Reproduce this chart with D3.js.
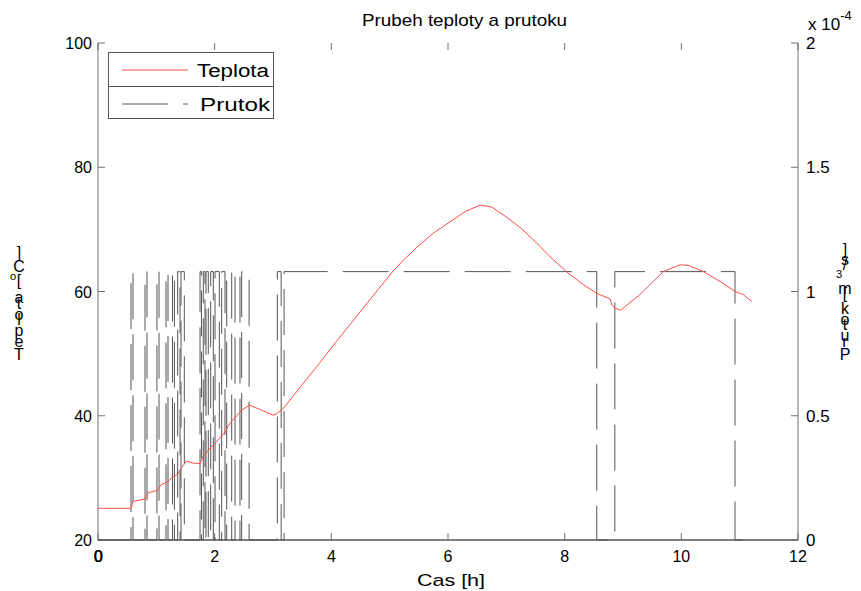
<!DOCTYPE html>
<html><head><meta charset="utf-8">
<script src="https://cdn.jsdelivr.net/npm/d3@7"></script>
<style>body{margin:0;background:#fff}svg{display:block}text{font-family:Arial,"Liberation Sans",Helvetica,sans-serif}</style>
</head><body>
<svg id="c" width="861" height="591"></svg>
<script>
// ---- data ----
const tempTime  = [0,0.57,0.6,0.80,0.86,1.02,1.08,1.20,1.26,1.37,1.42,1.52,1.62,1.75,1.80,1.92,2.06,2.18,2.26,2.38,2.46,2.60,2.78,3.00,3.06,3.18,3.5,3.8,4.09,4.5,4.8,5.06,5.25,5.5,5.75,6.0,6.3,6.55,6.75,7.0,7.25,7.5,7.75,8.03,8.32,8.55,8.78,8.81,8.86,8.96,9.29,9.69,9.98,10.12,10.38,10.72,10.92,11.06,11.21];
const tempValue = [25.1,25.1,26.2,26.6,27.6,28.0,28.9,29.4,30.0,30.6,31.5,32.7,32.4,32.3,33.4,34.8,36.1,37.4,38.8,40.0,40.9,41.7,41.0,40.1,40.3,41.2,45.0,48.5,52.0,56.8,60.3,63.3,65.2,67.4,69.4,71.0,72.9,73.9,73.6,72.0,70.2,68.0,65.6,63.2,61.1,59.7,58.8,57.8,57.3,57.0,59.5,63.2,64.3,64.2,63.2,61.3,60.0,59.5,58.4];
const flowOnStart = [0.566,0.806,1.01,1.166,1.277,1.366,1.423,1.749,1.805,1.851,1.932,2.006,2.12,2.206,2.349,2.463,3.074,3.19,8.86];
const flowOnEnd   = [0.60,0.84,1.046,1.20,1.31,1.406,1.48,1.774,1.834,1.891,1.977,2.08,2.177,2.292,2.434,2.59,3.14,8.55,10.92];
const flowHigh = 1.08e-4;
const flowEndTime = 11.2;
const xTicks = [0,2,4,6,8,10,12];
const yLeftTicks = [20,40,60,80,100];
const yRightTicks = [0,0.5e-4,1e-4,1.5e-4,2e-4];
const yRightTickLabels = ["0","0.5","1","1.5","2"];
const titleText = "Prubeh teploty a prutoku";
const xLabelText = "Cas [h]";
const legendNames = ["Teplota","Prutok"];

// ---- drawing ----
const svg = d3.select("#c");
const L=98,R=798,T=43,B=540;
const x = d3.scaleLinear().domain([0,12]).range([L,R]);
const yL = d3.scaleLinear().domain([20,100]).range([B,T]);
const yR = d3.scaleLinear().domain([0,2e-4]).range([B,T]);
const axisCol="#707070";

// flow series
const flowPts=[[0,0]];
flowOnStart.forEach((s,i)=>{const e=flowOnEnd[i];flowPts.push([s,0],[s,flowHigh],[e,flowHigh],[e,0]);});
flowPts.push([flowEndTime,0]);

// axes lines
svg.append("line").attr("x1",L).attr("x2",L).attr("y1",T).attr("y2",B).attr("stroke",axisCol);
svg.append("line").attr("x1",R).attr("x2",R).attr("y1",T).attr("y2",B).attr("stroke",axisCol);
svg.append("line").attr("x1",L).attr("x2",R).attr("y1",B).attr("y2",B).attr("stroke","#555").attr("stroke-width",1.5);

// ticks inward
const tl=7;
const gx=svg.append("g");
xTicks.forEach(t=>{
  gx.append("line").attr("x1",x(t)).attr("x2",x(t)).attr("y1",B).attr("y2",B-tl).attr("stroke",axisCol);
  gx.append("line").attr("x1",x(t)).attr("x2",x(t)).attr("y1",T).attr("y2",T+tl).attr("stroke",axisCol);
  gx.append("text").attr("x",x(t)).attr("y",B+22).attr("text-anchor","middle").attr("font-size",16).attr("fill","#000").text(t);
});
gx.append("text").attr("x",x(0)+0.8).attr("y",B+22).attr("text-anchor","middle").attr("font-size",16).attr("fill","#000").text("0");
yLeftTicks.forEach(v=>{
  svg.append("line").attr("x1",L).attr("x2",L+tl).attr("y1",yL(v)).attr("y2",yL(v)).attr("stroke",axisCol);
  svg.append("text").attr("x",L-6).attr("y",yL(v)+6).attr("text-anchor","end").attr("font-size",16).attr("fill","#000").text(v);
});
yRightTicks.forEach((v,i)=>{
  svg.append("line").attr("x1",R).attr("x2",R-tl).attr("y1",yR(v)).attr("y2",yR(v)).attr("stroke",axisCol);
  svg.append("text").attr("x",R+8).attr("y",yR(v)+6).attr("text-anchor","start").attr("font-size",17).attr("fill","#000").text(yRightTickLabels[i]);
});
// exponent
const ex=svg.append("text").attr("x",808).attr("y",30).attr("font-size",17).attr("fill","#000");
ex.append("tspan").text("x 10");
ex.append("tspan").attr("dy",-10).attr("font-size",13).text("-4");

// lines
const lineF=d3.line().x(d=>x(d[0])).y(d=>yR(d[1]));
svg.append("path").datum(flowPts).attr("d",lineF).attr("fill","none").attr("stroke","#555").attr("stroke-width",1).attr("stroke-dasharray","46,15");
const tempPts=tempTime.map((t,i)=>[t,tempValue[i]]);
const lineT=d3.line().x(d=>x(d[0])).y(d=>yL(d[1]));
svg.append("path").datum(tempPts).attr("d",lineT).attr("fill","none").attr("stroke","#ff4a4a").attr("stroke-width",1);

// title & x label
svg.append("text").attr("x",362).attr("y",26).attr("font-size",17).attr("fill","#000")
  .attr("textLength",205).attr("lengthAdjust","spacingAndGlyphs").text(titleText);
svg.append("text").attr("x",417).attr("y",586).attr("font-size",17).attr("fill","#000")
  .attr("textLength",68).attr("lengthAdjust","spacingAndGlyphs").text(xLabelText);

// legend
const lg=svg.append("g");
lg.append("rect").attr("x",108.5).attr("y",52.5).attr("width",165).attr("height",66).attr("fill","#fff").attr("stroke","#555");
lg.append("line").attr("x1",108.5).attr("x2",273.5).attr("y1",86.5).attr("y2",86.5).attr("stroke","#555");
lg.append("line").attr("x1",122).attr("x2",188).attr("y1",70).attr("y2",70).attr("stroke","#ff4a4a");
lg.append("text").attr("x",197).attr("y",77).attr("font-size",18).attr("fill","#000")
  .attr("textLength",72).attr("lengthAdjust","spacingAndGlyphs").text(legendNames[0]);
lg.append("line").attr("x1",122).attr("x2",188).attr("y1",104).attr("y2",104).attr("stroke","#555").attr("stroke-dasharray","46,15");
lg.append("text").attr("x",200).attr("y",111).attr("font-size",18).attr("fill","#000")
  .attr("textLength",70).attr("lengthAdjust","spacingAndGlyphs").text(legendNames[1]);

// stacked upright-character axis labels (bottom to top)
const cv=document.createElement("canvas").getContext("2d");
function stacked(parts, cx, baseY, size, spacing){
  let y=baseY;
  parts.forEach(p=>{
    const fs=p.sup?size*0.7:size;
    cv.font=fs+"px Arial";
    for(const ch of p.t){
      const w=cv.measureText(ch).width;
      svg.append("text").attr("x",cx+(p.sup?-6:0)).attr("y",y).attr("text-anchor","middle")
        .attr("font-size",fs).attr("fill","#000").text(ch);
      y-=w*spacing;
    }
  });
}
stacked([{t:"Teplota ["},{t:"o",sup:true},{t:"C]"}],19,360,16,1.28);
stacked([{t:"Prutok [m"},{t:"3",sup:true},{t:"/s]"}],845,360,16,1.2);
</script>
</body></html>
